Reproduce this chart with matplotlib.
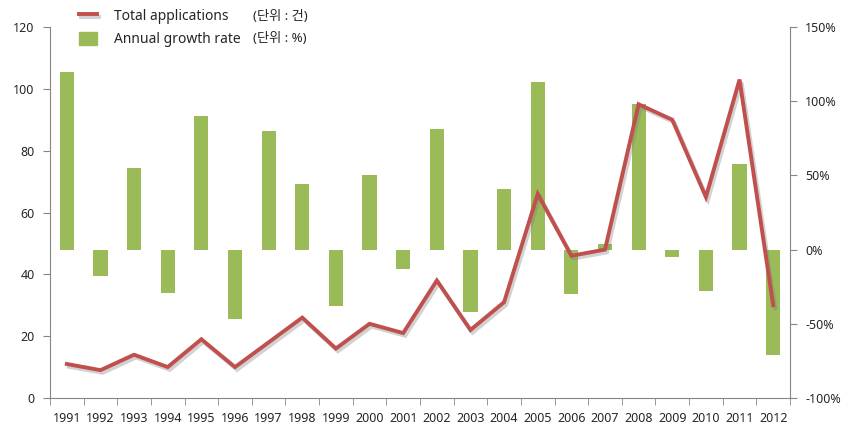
import matplotlib
matplotlib.use("Agg")
import matplotlib.pyplot as plt
import matplotlib.patheffects as pe
from matplotlib.lines import Line2D
from matplotlib.patches import Patch
import numpy as np

plt.rcParams['font.family'] = ['Noto Sans', 'Noto Sans CJK KR', 'DejaVu Sans']

years = [str(y) for y in range(1991, 2013)]
total_applications = [11, 9, 14, 10, 19, 10, 18, 26, 16, 24, 21, 38, 22, 31, 66, 46, 48, 95, 90, 65, 103, 30]
growth_rate = [120, -18, 55, -29, 90, -47, 80, 44, -38, 50, -13, 81, -42, 41, 113, -30, 4, 98, -5, -28, 58, -71]
left_ticks = [0, 20, 40, 60, 80, 100, 120]
right_ticks = [-100, -50, 0, 50, 100, 150]

line_color = '#C0504D'
bar_color = '#9BBB59'
spine_color = '#868686'
text_color = '#262626'

fig = plt.figure(figsize=(8.51, 4.41), dpi=100)
ax = fig.add_axes([50/851, 1-398/441, (790-50)/851, (398-27)/441])
ax2 = ax.twinx()

x = np.arange(len(years))

ax2.bar(x, growth_rate, width=0.42, color=bar_color, zorder=2)
ax2.set_ylim(-100, 150)
ax2.set_yticks(right_ticks)
ax2.set_yticklabels([f"{t}%" for t in right_ticks])

shadow = [pe.SimpleLineShadow(offset=(1.5, -2), shadow_color='#7f7f7f', alpha=0.35), pe.Normal()]
ax.plot(x, total_applications, color=line_color, lw=2.8, solid_joinstyle='miter',
        path_effects=shadow, zorder=3)
ax.set_ylim(0, 120)
ax.set_yticks(left_ticks)
ax.set_xlim(-0.5, len(years) - 0.5)
ax.set_xticks(x)
ax.set_xticklabels(years)
ax.set_xticks(np.arange(-0.5, len(years), 1.0), minor=True)
ax.tick_params(axis='x', which='major', length=0, pad=10)
ax.tick_params(axis='x', which='minor', length=5, color=spine_color, direction='out')

ax.set_zorder(ax2.get_zorder() + 1)
ax.patch.set_visible(False)

for a in (ax, ax2):
    a.spines['top'].set_visible(False)
    for s in ['left', 'right', 'bottom']:
        a.spines[s].set_color(spine_color)
ax.spines['right'].set_visible(False)
ax2.spines['left'].set_visible(False)
ax2.spines['bottom'].set_visible(False)

ax.tick_params(axis='y', length=5, color=spine_color, labelsize=9, labelcolor=text_color, pad=6)
ax.tick_params(axis='x', labelsize=9, labelcolor=text_color)
ax2.tick_params(axis='y', length=5, color=spine_color, labelsize=9, labelcolor=text_color, pad=6)

handles = [Line2D([0], [0], color=line_color, lw=2.8, path_effects=shadow),
           Patch(color=bar_color)]
leg = fig.legend(handles, ['Total applications', 'Annual growth rate'],
                 loc='upper left', bbox_to_anchor=(66/851, 1 + 4/441), frameon=False,
                 fontsize=10, handlelength=1.35, handleheight=1.0, handletextpad=1.2,
                 labelspacing=0.62, labelcolor=text_color)

fig.text(253/851, 1 - 16/441, '(단위 : 건)', fontsize=9.5, color=text_color, va='center', ha='left')
fig.text(253/851, 1 - 39/441, '(단위 : %)', fontsize=9.5, color=text_color, va='center', ha='left')

fig.savefig('out.png', dpi=100)
